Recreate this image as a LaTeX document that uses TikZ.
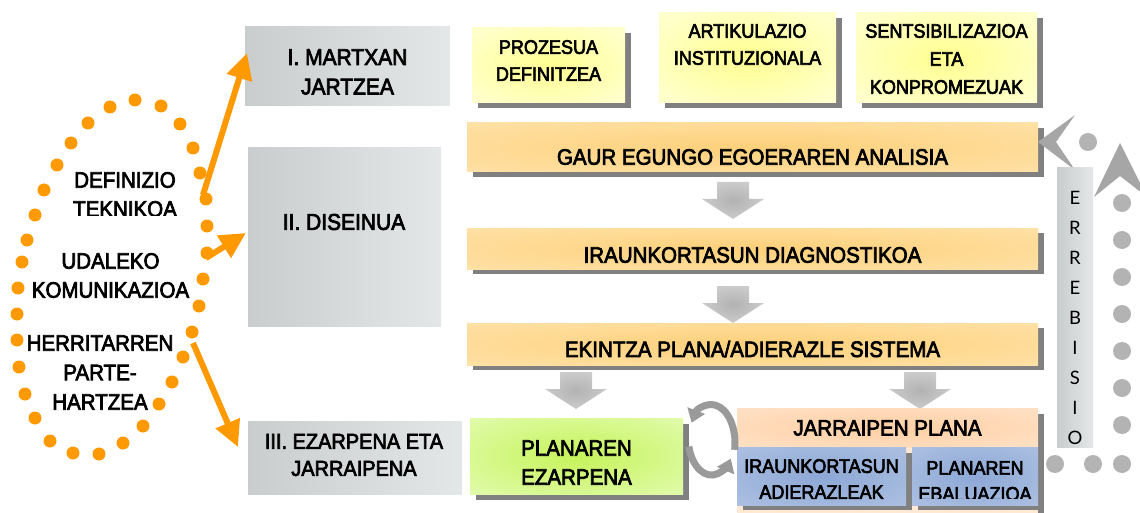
\documentclass[tikz,border=0pt]{standalone}
\usepackage{fontspec}
\setmainfont{Liberation Sans}
\newfontfamily\mainbold[FakeBold=3.2, FakeStretch=0.92]{Liberation Sans}
\newfontfamily\revfont{Lato}
\usetikzlibrary{arrows.meta,calc}

\definecolor{orng}{HTML}{FF9900}
\definecolor{phL}{HTML}{C9CDCE}
\definecolor{phR}{HTML}{E4E7E8}
\definecolor{shd}{HTML}{808080}
\definecolor{yc}{HTML}{FFFF90}
\definecolor{ye}{HTML}{FFFFCC}
\definecolor{barc}{HTML}{FDD07A}
\definecolor{bare}{HTML}{FFE8B8}
\definecolor{grc}{HTML}{C6F35A}
\definecolor{gre}{HTML}{E4FCB6}
\definecolor{blc}{HTML}{8DA8D6}
\definecolor{ble}{HTML}{B8C9E5}
\definecolor{pch}{HTML}{FFE8D4}
\definecolor{pchc}{HTML}{FFCFA4}
\definecolor{arc}{HTML}{B2B2B2}
\definecolor{are}{HTML}{E4E4E4}
\definecolor{dotg}{HTML}{B3B3B3}
\definecolor{chev}{HTML}{A6A6A6}
\definecolor{cycg}{HTML}{9A9A9A}

\pgfdeclareradialshading{yglow}{\pgfpoint{0bp}{0bp}}{color(0bp)=(yc); color(32bp)=(ye); color(50bp)=(ye)}
\pgfdeclareradialshading{barglow}{\pgfpoint{0bp}{0bp}}{color(0bp)=(barc); color(50bp)=(bare)}
\pgfdeclareradialshading{gglow}{\pgfpoint{0bp}{0bp}}{color(0bp)=(grc); color(40bp)=(gre); color(50bp)=(gre)}
\pgfdeclareradialshading{bglow}{\pgfpoint{0bp}{0bp}}{color(0bp)=(blc); color(50bp)=(ble)}
\pgfdeclareradialshading{pglow}{\pgfpoint{0bp}{0bp}}{color(0bp)=(pchc); color(50bp)=(pch)}
\pgfdeclareradialshading{aglow}{\pgfpoint{0bp}{0bp}}{color(0bp)=(arc); color(50bp)=(are)}

\tikzset{
  box/.style={rectangle, inner sep=0pt, outer sep=0pt, draw=none},
  wh/.style 2 args={minimum width=#1pt, minimum height=#2pt},
  phase/.style={box, left color=phL, right color=phR},
  ybox/.style={box, shading=yglow},
  barbox/.style={box, shading=barglow},
  gbox/.style={box, shading=gglow},
  bluebox/.style={box, shading=bglow},
  pbox/.style={box, fill=pch},
  shadowfill/.style={fill=shd},
  lbl/.style={inner sep=0pt, align=center, font=\mainbold\fontsize{22.3}{29}\selectfont},
  slbl/.style={inner sep=0pt, align=center, font=\mainbold\fontsize{19.6}{27}\selectfont},
  oarrow/.style={draw=orng, line width=6pt, -{Triangle[length=26pt,width=25pt]}},
  cyc/.style={draw=cycg, line width=7pt, -{Triangle[length=13pt,width=18pt]}},
  gdot/.style={fill=dotg},
  odot/.style={fill=orng},
  revl/.style={inner sep=0pt, font=\revfont\fontsize{18.5}{18.5}\selectfont},
  darrow/.pic={\shade[shading=aglow] (-16,0) -- (16,0) -- (16,17) -- (31,17) -- (0,37) -- (-31,17) -- (-16,17) -- cycle;}
}

\begin{document}
\begin{tikzpicture}[x=1pt,y=-1pt]
\useasboundingbox (0,0) rectangle (1140,513);
\clip (0,0) rectangle (1140,513);

% ---------- orange dotted ellipse ----------
\foreach \x/\y in {135/100,161/106,180/124,193/148,200/173,206/199,207/226,207/253,203/279,199/306,192/332,183/357,172/382,159/404,143/426,123/443,99/454,73/453,50/441,35/418,25/394,19/367,17/340,17/314,18/288,22/262,27/240,35/215,44/190,57/165,71/143,88/123,110/107}
  \fill[odot] (\x,\y) circle (6.5pt);

\begin{scope}
  \clip (0,150) rectangle (240,216);
  \node[lbl] (def) at (125,194.5) {DEFINIZIO\\TEKNIKOA};
\end{scope}
\node[lbl] (uda) at (110.5,275.5) {UDALEKO\\KOMUNIKAZIOA};
\node[lbl, font=\mainbold\fontsize{22.3}{29.5}\selectfont] (her) at (100,372.5) {HERRITARREN\\PARTE-\\HARTZEA};

% ---------- phase boxes ----------
\node[phase, wh={205}{79}] (p1) at (347.5,66.5) {};
\node[phase, wh={193}{178}] (p2) at (344.5,237) {};
\node[phase, wh={214}{73}] (p3) at (355,457.5) {};
\node[lbl, font=\mainbold\fontsize{22.8}{29.5}\selectfont] (t1) at (347.5,72) {I. MARTXAN\\JARTZEA};
\node[lbl, font=\mainbold\fontsize{22.8}{29.5}\selectfont] (t2) at (344,222) {II. DISEINUA};
\node[lbl, font=\mainbold\fontsize{21.7}{27}\selectfont] (t3) at (354,455) {III. EZARPENA ETA\\JARRAIPENA};

% ---------- orange arrows ----------
\coordinate (a1s) at (203,195); \coordinate (a1e) at (247,53);
\coordinate (a2s) at (206,258); \coordinate (a2e) at (246,233);
\coordinate (a3s) at (193,343); \coordinate (a3e) at (238,447);
\draw[oarrow] (a1s) -- (a1e);
\draw[oarrow] (a2s) -- (a2e);
\draw[oarrow] (a3s) -- (a3e);

% ---------- top yellow boxes ----------
\fill[shadowfill] (478,33) rectangle (631,108);
\fill[shadowfill] (665,18) rectangle (842,108);
\fill[shadowfill] (862,18) rectangle (1043,108);
\node[ybox, wh={153}{75}] (pro) at (548.5,65.5) {};
\node[ybox, wh={177}{90}] (art) at (747.5,58) {};
\node[ybox, wh={181}{90}] (sen) at (946.5,58) {};
\node[slbl] (tpro) at (548.5,60.5) {PROZESUA\\DEFINITZEA};
\node[slbl] (tart) at (747.5,44.5) {ARTIKULAZIO\\INSTITUZIONALA};
\node[slbl, font=\mainbold\fontsize{19.6}{28}\selectfont] (tsen) at (946.5,59) {SENTSIBILIZAZIOA\\ETA\\KONPROMEZUAK};

% ---------- orange bars ----------
\fill[shadowfill] (473,128) rectangle (1044,177);
\fill[shadowfill] (473,233) rectangle (1044,274);
\fill[shadowfill] (473,328) rectangle (1044,370);
\node[barbox, wh={571}{49}] (gaur) at (752.5,147.5) {};
\node[barbox, wh={571}{41}] (diag) at (752.5,248.5) {};
\node[barbox, wh={571}{42}] (ekin) at (752.5,344) {};
\node[lbl] (tgaur) at (752.5,157) {GAUR EGUNGO EGOERAREN ANALISIA};
\node[lbl] (tdiag) at (752.5,255) {IRAUNKORTASUN DIAGNOSTIKOA};
\node[lbl] (tekin) at (752.5,349) {EKINTZA PLANA/ADIERAZLE SISTEMA};

% ---------- gray down arrows ----------
\pic (d1) at (733,182) {darrow};
\pic (d2) at (733,286) {darrow};
\pic (d3) at (576,372) {darrow};
\pic (d4) at (920,372) {darrow};

% ---------- bottom boxes ----------
\fill[shadowfill] (476,424) rectangle (689,500);
\node[gbox, wh={213}{76}] (ezar) at (576.5,456) {};
\node[lbl] (tezar) at (576.5,462.5) {PLANAREN\\EZARPENA};

\fill[shadowfill] (743,414) rectangle (1044,526);
\node[pbox, wh={301}{112}] (jar) at (887.5,464) {};
\shade[shading=pglow] (737,408) rectangle (1038,447);
\node[lbl] (tjar) at (887.5,428) {JARRAIPEN PLANA};

\fill[shadowfill] (743,453) rectangle (912,510);
\fill[shadowfill] (918,453) rectangle (1044,510);
\node[bluebox, wh={169}{58}] (adi) at (821.5,476) {};
\node[bluebox, wh={126}{58}] (eba) at (975,476) {};
\node[slbl, font=\mainbold\fontsize{19.6}{26}\selectfont] (tadi) at (821.5,479) {IRAUNKORTASUN\\ADIERAZLEAK};
\begin{scope}
  \clip (912,447) rectangle (1038,498);
  \node[slbl, font=\mainbold\fontsize{19.6}{26}\selectfont] (teba) at (975,481) {PLANAREN\\EBALUAZIOA};
\end{scope}

% ---------- cycle arrows ----------
\draw[cyc] (711.5,456.5) ++(10:23.5pt and 38.5pt) arc[start angle=10, end angle=-148, x radius=23.5, y radius=38.5];
\draw[cyc] (711.5,456.5) ++(-195:23.5pt and 38.5pt) arc[start angle=-195, end angle=-325, x radius=23.5, y radius=38.5];

% ---------- review loop ----------
\foreach \x/\y in {1088/142,1122/203,1122/240,1122/277,1122/314,1122/351,1122/388,1122/425,1122/464,1093/464,1055/464}
  \fill[gdot] (\x,\y) circle (9pt);
\fill[chev] (1038,142) -- (1075,115) -- (1056,142) -- (1075,170) -- cycle;
\fill[chev] (1120,143) -- (1147,197) -- (1120,176) -- (1094,197) -- cycle;
\node[phase, wh={36}{279}] (rev) at (1075,307.5) {};
\begin{scope}
  \clip (1057,168) rectangle (1093,444);
  \foreach \l [count=\i from 0] in {E,R,R,E,B,I,S,I,O}
    \node[revl] (r\i) at (1075,198+30*\i) {\l};
\end{scope}

\end{tikzpicture}
\end{document}
